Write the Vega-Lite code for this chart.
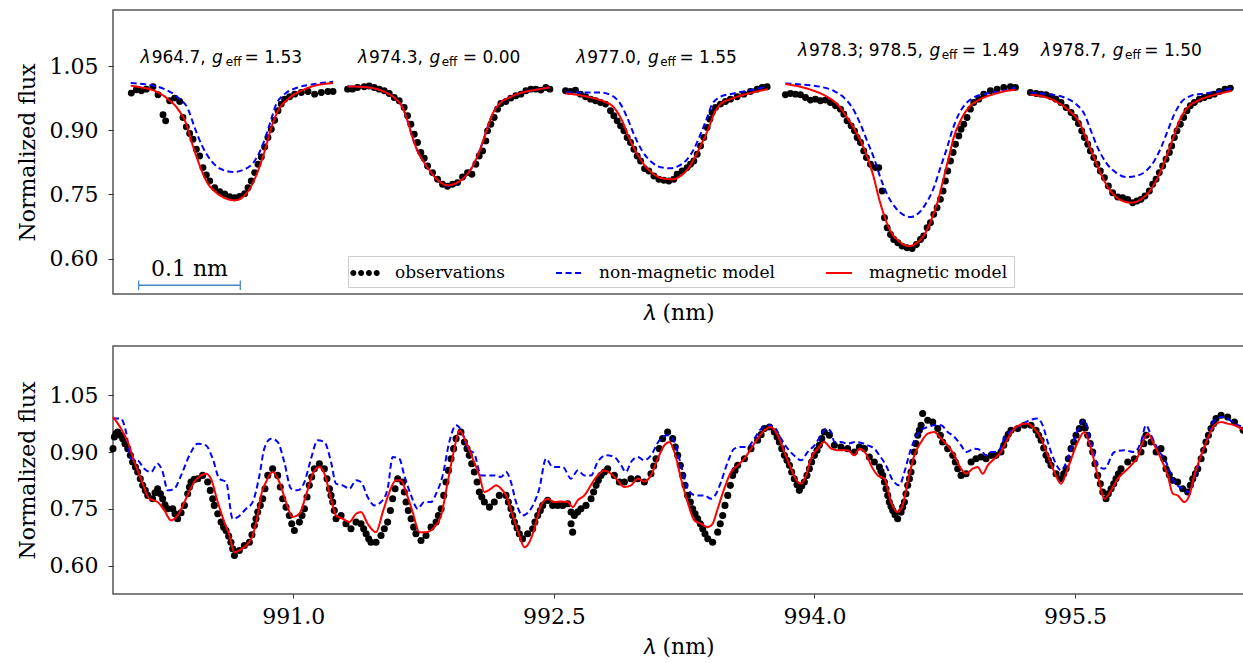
{
"$schema":"https://vega.github.io/schema/vega-lite/v6.json",
"padding":{"left":15,"top":9,"right":0,"bottom":0},
"config":{
 "view":{"stroke":"#555","strokeWidth":1.5},
 "axis":{"labelFont":"DejaVu Serif","labelFontSize":22,"titleFont":"DejaVu Serif","titleFontSize":22,"titleFontWeight":"normal","labelColor":"black","titleColor":"black","tickColor":"#333","grid":false,"domain":false},
 "legend":{"title":null,"orient":"none","legendX":235,"legendY":246,"direction":"horizontal","labelFont":"DejaVu Serif","labelFontSize":17,"labelColor":"black","labelLimit":400,"symbolSize":400,"symbolStrokeWidth":2,"symbolOpacity":1,"labelOffset":19,"columnPadding":47,"padding":6,"strokeColor":"#cccccc","fillColor":"white","cornerRadius":0}
},
"spacing":21,
"resolve":{"scale":{"x":"independent","y":"independent","color":"independent","shape":"independent","strokeDash":"independent"}},
"datasets":{
"top_obs":[
{"x":0.0180,"flux":0.9867},{"x":0.0230,"flux":0.9945},{"x":0.0279,"flux":0.9921},{"x":0.0328,"flux":0.996},{"x":0.0393,"flux":1.0015},{"x":0.0443,"flux":0.9828},{"x":0.0492,"flux":0.9359},{"x":0.0518,"flux":0.9218},{"x":0.0557,"flux":0.9687},{"x":0.0606,"flux":0.975},{"x":0.0656,"flux":0.9671},{"x":0.0688,"flux":0.9297},{"x":0.0721,"flux":0.9078},{"x":0.0754,"flux":0.8922},{"x":0.0787,"flux":0.8789},{"x":0.0820,"flux":0.8555},{"x":0.0852,"flux":0.8398},{"x":0.0885,"flux":0.8125},{"x":0.0918,"flux":0.7953},{"x":0.0951,"flux":0.7813},{"x":0.1000,"flux":0.7657},{"x":0.1049,"flux":0.7563},{"x":0.1098,"flux":0.751},{"x":0.1147,"flux":0.7446},{"x":0.1197,"flux":0.7422},{"x":0.1246,"flux":0.7453},{"x":0.1295,"flux":0.7516},{"x":0.1328,"flux":0.7657},{"x":0.1360,"flux":0.7813},{"x":0.1393,"flux":0.8008},{"x":0.1426,"flux":0.8203},{"x":0.1459,"flux":0.8375},{"x":0.1492,"flux":0.8609},{"x":0.1524,"flux":0.8828},{"x":0.1557,"flux":0.9023},{"x":0.1590,"flux":0.9234},{"x":0.1623,"flux":0.9453},{"x":0.1655,"flux":0.961},{"x":0.1688,"flux":0.9726},{"x":0.1737,"flux":0.9781},{"x":0.1787,"flux":0.9843},{"x":0.1852,"flux":0.9882},{"x":0.1918,"flux":0.9906},{"x":0.1983,"flux":0.9843},{"x":0.2049,"flux":0.9882},{"x":0.2114,"flux":0.9906},{"x":0.2164,"flux":0.9906},
{"x":0.2307,"flux":0.996},{"x":0.2356,"flux":0.996},{"x":0.2405,"flux":1.0},{"x":0.2471,"flux":1.0015},{"x":0.2520,"flux":1.0031},{"x":0.2569,"flux":1.0},{"x":0.2618,"flux":0.996},{"x":0.2668,"flux":0.9921},{"x":0.2717,"flux":0.9859},{"x":0.2766,"flux":0.9765},{"x":0.2815,"flux":0.9687},{"x":0.2864,"flux":0.9531},{"x":0.2897,"flux":0.9336},{"x":0.2930,"flux":0.914},{"x":0.2963,"flux":0.8906},{"x":0.2995,"flux":0.8711},{"x":0.3028,"flux":0.8477},{"x":0.3061,"flux":0.8344},{"x":0.3094,"flux":0.8164},{"x":0.3143,"flux":0.8008},{"x":0.3192,"flux":0.7852},{"x":0.3241,"flux":0.7735},{"x":0.3290,"flux":0.769},{"x":0.3340,"flux":0.7735},{"x":0.3389,"flux":0.7774},{"x":0.3438,"flux":0.7906},{"x":0.3487,"flux":0.8008},{"x":0.3530,"flux":0.7969},{"x":0.3569,"flux":0.8203},{"x":0.3602,"flux":0.8398},{"x":0.3635,"flux":0.8516},{"x":0.3667,"flux":0.875},{"x":0.3684,"flux":0.8984},{"x":0.3717,"flux":0.914},{"x":0.3749,"flux":0.9297},{"x":0.3782,"flux":0.9492},{"x":0.3815,"flux":0.9625},{"x":0.3864,"flux":0.9671},{"x":0.3913,"flux":0.975},{"x":0.3962,"flux":0.9804},{"x":0.4012,"flux":0.9843},{"x":0.4061,"flux":0.9921},{"x":0.4110,"flux":0.996},{"x":0.4159,"flux":0.996},{"x":0.4208,"flux":0.9937},{"x":0.4257,"flux":1.0},{"x":0.4297,"flux":0.996},
{"x":0.4451,"flux":0.9921},{"x":0.4500,"flux":0.9906},{"x":0.4549,"flux":0.9937},{"x":0.4598,"flux":0.9843},{"x":0.4648,"flux":0.9781},{"x":0.4697,"flux":0.9726},{"x":0.4746,"flux":0.9687},{"x":0.4795,"flux":0.9648},{"x":0.4844,"flux":0.961},{"x":0.4893,"flux":0.9453},{"x":0.4926,"flux":0.9336},{"x":0.4959,"flux":0.9218},{"x":0.4992,"flux":0.9101},{"x":0.5025,"flux":0.8984},{"x":0.5057,"flux":0.8828},{"x":0.5090,"flux":0.8711},{"x":0.5123,"flux":0.8555},{"x":0.5156,"flux":0.8398},{"x":0.5189,"flux":0.8281},{"x":0.5228,"flux":0.8102},{"x":0.5270,"flux":0.8047},{"x":0.5320,"flux":0.793},{"x":0.5369,"flux":0.7852},{"x":0.5418,"flux":0.7828},{"x":0.5467,"flux":0.7813},{"x":0.5516,"flux":0.7852},{"x":0.5549,"flux":0.7969},{"x":0.5598,"flux":0.8047},{"x":0.5647,"flux":0.8125},{"x":0.5680,"flux":0.8203},{"x":0.5713,"flux":0.8281},{"x":0.5746,"flux":0.8438},{"x":0.5779,"flux":0.8633},{"x":0.5811,"flux":0.8828},{"x":0.5844,"flux":0.9062},{"x":0.5870,"flux":0.9258},{"x":0.5893,"flux":0.9414},{"x":0.5926,"flux":0.9531},{"x":0.5975,"flux":0.961},{"x":0.6024,"flux":0.9671},{"x":0.6073,"flux":0.9726},{"x":0.6139,"flux":0.9781},{"x":0.6205,"flux":0.9843},{"x":0.6270,"flux":0.9906},{"x":0.6336,"flux":0.996},{"x":0.6385,"flux":1.0},{"x":0.6434,"flux":1.0015},
{"x":0.6614,"flux":0.9828},{"x":0.6663,"flux":0.9859},{"x":0.6712,"flux":0.9843},{"x":0.6761,"flux":0.9828},{"x":0.6811,"flux":0.9765},{"x":0.6860,"flux":0.9703},{"x":0.6909,"flux":0.9726},{"x":0.6958,"flux":0.9687},{"x":0.7007,"flux":0.9703},{"x":0.7056,"flux":0.9648},{"x":0.7106,"flux":0.957},{"x":0.7155,"flux":0.9492},{"x":0.7188,"flux":0.9375},{"x":0.7220,"flux":0.9218},{"x":0.7260,"flux":0.9101},{"x":0.7293,"flux":0.8984},{"x":0.7319,"flux":0.8828},{"x":0.7352,"flux":0.8711},{"x":0.7384,"flux":0.8516},{"x":0.7410,"flux":0.8359},{"x":0.7450,"flux":0.8203},{"x":0.7499,"flux":0.8125},{"x":0.7532,"flux":0.8125},{"x":0.7565,"flux":0.7578},{"x":0.7588,"flux":0.6954},{"x":0.7614,"flux":0.6719},{"x":0.7647,"flux":0.6563},{"x":0.7679,"flux":0.6446},{"x":0.7719,"flux":0.6368},{"x":0.7761,"flux":0.629},{"x":0.7810,"flux":0.6251},{"x":0.7860,"flux":0.6235},{"x":0.7902,"flux":0.6329},{"x":0.7942,"flux":0.6446},{"x":0.7974,"flux":0.6524},{"x":0.8007,"flux":0.6719},{"x":0.8040,"flux":0.6836},{"x":0.8073,"flux":0.7032},{"x":0.8105,"flux":0.7188},{"x":0.8138,"flux":0.7383},{"x":0.8164,"flux":0.7578},{"x":0.8187,"flux":0.7813},{"x":0.8210,"flux":0.8047},{"x":0.8237,"flux":0.8281},{"x":0.8263,"flux":0.8477},{"x":0.8286,"flux":0.8672},{"x":0.8319,"flux":0.8867},{"x":0.8341,"flux":0.9023},{"x":0.8368,"flux":0.914},{"x":0.8400,"flux":0.9297},{"x":0.8433,"flux":0.9492},{"x":0.8466,"flux":0.9648},{"x":0.8515,"flux":0.9726},{"x":0.8564,"flux":0.9843},{"x":0.8630,"flux":0.9921},{"x":0.8696,"flux":0.996},{"x":0.8761,"flux":1.0},{"x":0.8827,"flux":1.0015},{"x":0.8876,"flux":1.0},
{"x":0.9023,"flux":0.9882},{"x":0.9079,"flux":0.9859},{"x":0.9128,"flux":0.9843},{"x":0.9177,"flux":0.9828},{"x":0.9226,"flux":0.9781},{"x":0.9275,"flux":0.9726},{"x":0.9324,"flux":0.9648},{"x":0.9374,"flux":0.9531},{"x":0.9423,"flux":0.9414},{"x":0.9462,"flux":0.9297},{"x":0.9495,"flux":0.9156},{"x":0.9528,"flux":0.8984},{"x":0.9554,"flux":0.8828},{"x":0.9587,"flux":0.8672},{"x":0.9613,"flux":0.8516},{"x":0.9646,"flux":0.8359},{"x":0.9678,"flux":0.8203},{"x":0.9711,"flux":0.8047},{"x":0.9751,"flux":0.789},{"x":0.9790,"flux":0.7696},{"x":0.9832,"flux":0.7539},{"x":0.9882,"flux":0.7438},{"x":0.9931,"flux":0.7422},{"x":0.9980,"flux":0.7383},{"x":1.0029,"flux":0.7305},{"x":1.0072,"flux":0.7344},{"x":1.0111,"flux":0.7383},{"x":1.0150,"flux":0.7461},{"x":1.0193,"flux":0.7578},{"x":1.0226,"flux":0.7735},{"x":1.0259,"flux":0.7852},{"x":1.0291,"flux":0.8008},{"x":1.0324,"flux":0.8164},{"x":1.0357,"flux":0.832},{"x":1.0390,"flux":0.8477},{"x":1.0413,"flux":0.8633},{"x":1.0439,"flux":0.8828},{"x":1.0465,"flux":0.8984},{"x":1.0498,"flux":0.914},{"x":1.0531,"flux":0.9297},{"x":1.0563,"flux":0.9453},{"x":1.0596,"flux":0.957},{"x":1.0636,"flux":0.9648},{"x":1.0685,"flux":0.9726},{"x":1.0734,"flux":0.9765},{"x":1.0783,"flux":0.9804},{"x":1.0832,"flux":0.9843},{"x":1.0881,"flux":0.9906},{"x":1.0937,"flux":0.996},{"x":1.0990,"flux":0.9984}
],
"top_nonmag":[
{"seg":1,"x":0.0174,"flux":1.0101},{"seg":1,"x":0.0344,"flux":1.0062},{"seg":1,"x":0.0508,"flux":0.996},{"seg":1,"x":0.0639,"flux":0.9765},{"seg":1,"x":0.0738,"flux":0.9492},{"seg":1,"x":0.0803,"flux":0.9062},{"seg":1,"x":0.0869,"flux":0.8672},{"seg":1,"x":0.0967,"flux":0.8281},{"seg":1,"x":0.1065,"flux":0.8086},{"seg":1,"x":0.118,"flux":0.8024},{"seg":1,"x":0.1295,"flux":0.8086},{"seg":1,"x":0.1393,"flux":0.8281},{"seg":1,"x":0.1475,"flux":0.8672},{"seg":1,"x":0.1541,"flux":0.914},{"seg":1,"x":0.1606,"flux":0.961},{"seg":1,"x":0.1688,"flux":0.9843},{"seg":1,"x":0.1819,"flux":1.0},{"seg":1,"x":0.1983,"flux":1.0078},{"seg":1,"x":0.2164,"flux":1.0132},
{"seg":2,"x":0.2307,"flux":1.0023},{"seg":2,"x":0.2422,"flux":1.0015},{"seg":2,"x":0.2553,"flux":0.9984},{"seg":2,"x":0.2684,"flux":0.9882},{"seg":2,"x":0.2782,"flux":0.9726},{"seg":2,"x":0.2848,"flux":0.9531},{"seg":2,"x":0.2897,"flux":0.9218},{"seg":2,"x":0.2946,"flux":0.8828},{"seg":2,"x":0.2995,"flux":0.8516},{"seg":2,"x":0.3061,"flux":0.8242},{"seg":2,"x":0.3143,"flux":0.7969},{"seg":2,"x":0.3225,"flux":0.7774},{"seg":2,"x":0.3290,"flux":0.7701},{"seg":2,"x":0.3372,"flux":0.7748},{"seg":2,"x":0.3454,"flux":0.7891},{"seg":2,"x":0.3520,"flux":0.8086},{"seg":2,"x":0.3585,"flux":0.8398},{"seg":2,"x":0.3635,"flux":0.8711},{"seg":2,"x":0.3684,"flux":0.9062},{"seg":2,"x":0.3733,"flux":0.9375},{"seg":2,"x":0.3798,"flux":0.961},{"seg":2,"x":0.3897,"flux":0.9765},{"seg":2,"x":0.4028,"flux":0.9882},{"seg":2,"x":0.4159,"flux":0.9945},{"seg":2,"x":0.4297,"flux":1.0},
{"seg":3,"x":0.4451,"flux":0.9882},{"seg":3,"x":0.4631,"flux":0.9882},{"seg":3,"x":0.4795,"flux":0.9882},{"seg":3,"x":0.4910,"flux":0.9804},{"seg":3,"x":0.4992,"flux":0.961},{"seg":3,"x":0.5057,"flux":0.9297},{"seg":3,"x":0.5123,"flux":0.8906},{"seg":3,"x":0.5205,"flux":0.8516},{"seg":3,"x":0.5303,"flux":0.8242},{"seg":3,"x":0.5402,"flux":0.8125},{"seg":3,"x":0.5484,"flux":0.8109},{"seg":3,"x":0.5565,"flux":0.8164},{"seg":3,"x":0.5647,"flux":0.832},{"seg":3,"x":0.5713,"flux":0.8555},{"seg":3,"x":0.5779,"flux":0.8906},{"seg":3,"x":0.5844,"flux":0.9297},{"seg":3,"x":0.5893,"flux":0.961},{"seg":3,"x":0.5975,"flux":0.9781},{"seg":3,"x":0.6106,"flux":0.9859},{"seg":3,"x":0.6270,"flux":0.9937},{"seg":3,"x":0.6441,"flux":1.0023},
{"seg":4,"x":0.6614,"flux":1.0093},{"seg":4,"x":0.6794,"flux":1.0062},{"seg":4,"x":0.6958,"flux":1.0015},{"seg":4,"x":0.7089,"flux":0.9921},{"seg":4,"x":0.7188,"flux":0.9765},{"seg":4,"x":0.7270,"flux":0.9531},{"seg":4,"x":0.7352,"flux":0.914},{"seg":4,"x":0.7417,"flux":0.875},{"seg":4,"x":0.7483,"flux":0.8359},{"seg":4,"x":0.7548,"flux":0.789},{"seg":4,"x":0.7614,"flux":0.75},{"seg":4,"x":0.7696,"flux":0.7188},{"seg":4,"x":0.7778,"flux":0.7016},{"seg":4,"x":0.7843,"flux":0.6969},{"seg":4,"x":0.7909,"flux":0.7032},{"seg":4,"x":0.7991,"flux":0.7266},{"seg":4,"x":0.8073,"flux":0.7656},{"seg":4,"x":0.8138,"flux":0.8125},{"seg":4,"x":0.8204,"flux":0.8594},{"seg":4,"x":0.8253,"flux":0.8984},{"seg":4,"x":0.8319,"flux":0.9375},{"seg":4,"x":0.8384,"flux":0.961},{"seg":4,"x":0.8466,"flux":0.9765},{"seg":4,"x":0.8597,"flux":0.9859},{"seg":4,"x":0.8728,"flux":0.9906},{"seg":4,"x":0.8876,"flux":1.0},
{"seg":5,"x":0.9023,"flux":0.9882},{"seg":5,"x":0.9193,"flux":0.9843},{"seg":5,"x":0.9357,"flux":0.9765},{"seg":5,"x":0.9472,"flux":0.961},{"seg":5,"x":0.9554,"flux":0.9375},{"seg":5,"x":0.9619,"flux":0.8984},{"seg":5,"x":0.9685,"flux":0.8594},{"seg":5,"x":0.9767,"flux":0.8242},{"seg":5,"x":0.9865,"flux":0.8008},{"seg":5,"x":0.9964,"flux":0.7906},{"seg":5,"x":1.0062,"flux":0.793},{"seg":5,"x":1.0160,"flux":0.8047},{"seg":5,"x":1.0242,"flux":0.8281},{"seg":5,"x":1.0308,"flux":0.8594},{"seg":5,"x":1.0373,"flux":0.8984},{"seg":5,"x":1.0439,"flux":0.9375},{"seg":5,"x":1.0505,"flux":0.9648},{"seg":5,"x":1.0603,"flux":0.9804},{"seg":5,"x":1.0734,"flux":0.9859},{"seg":5,"x":1.0865,"flux":0.9906},{"seg":5,"x":1.1003,"flux":0.9984}
],
"top_mag":[
{"seg":1,"x":0.0174,"flux":1.0039},{"seg":1,"x":0.0279,"flux":1.0},{"seg":1,"x":0.0410,"flux":0.9921},{"seg":1,"x":0.0541,"flux":0.9726},{"seg":1,"x":0.0639,"flux":0.9492},{"seg":1,"x":0.0721,"flux":0.914},{"seg":1,"x":0.0770,"flux":0.875},{"seg":1,"x":0.0836,"flux":0.8281},{"seg":1,"x":0.0918,"flux":0.7813},{"seg":1,"x":0.1016,"flux":0.7539},{"seg":1,"x":0.1115,"flux":0.7399},{"seg":1,"x":0.1197,"flux":0.736},{"seg":1,"x":0.1278,"flux":0.7438},{"seg":1,"x":0.1360,"flux":0.7696},{"seg":1,"x":0.1426,"flux":0.8047},{"seg":1,"x":0.1492,"flux":0.8516},{"seg":1,"x":0.1557,"flux":0.9062},{"seg":1,"x":0.1623,"flux":0.9453},{"seg":1,"x":0.1721,"flux":0.9726},{"seg":1,"x":0.1852,"flux":0.9921},{"seg":1,"x":0.1983,"flux":1.0039},{"seg":1,"x":0.2164,"flux":1.0101},
{"seg":2,"x":0.2307,"flux":1.0023},{"seg":2,"x":0.2422,"flux":1.0015},{"seg":2,"x":0.2553,"flux":0.9984},{"seg":2,"x":0.2684,"flux":0.9882},{"seg":2,"x":0.2782,"flux":0.9726},{"seg":2,"x":0.2848,"flux":0.9531},{"seg":2,"x":0.2897,"flux":0.9218},{"seg":2,"x":0.2946,"flux":0.8828},{"seg":2,"x":0.2995,"flux":0.8516},{"seg":2,"x":0.3061,"flux":0.8242},{"seg":2,"x":0.3143,"flux":0.7969},{"seg":2,"x":0.3225,"flux":0.7774},{"seg":2,"x":0.3290,"flux":0.7711},{"seg":2,"x":0.3372,"flux":0.7758},{"seg":2,"x":0.3454,"flux":0.7891},{"seg":2,"x":0.3520,"flux":0.8086},{"seg":2,"x":0.3585,"flux":0.8398},{"seg":2,"x":0.3635,"flux":0.8711},{"seg":2,"x":0.3684,"flux":0.9062},{"seg":2,"x":0.3733,"flux":0.9375},{"seg":2,"x":0.3798,"flux":0.961},{"seg":2,"x":0.3897,"flux":0.9765},{"seg":2,"x":0.4028,"flux":0.9882},{"seg":2,"x":0.4159,"flux":0.9945},{"seg":2,"x":0.4297,"flux":1.0},
{"seg":3,"x":0.4451,"flux":0.9859},{"seg":3,"x":0.4566,"flux":0.9828},{"seg":3,"x":0.4697,"flux":0.9765},{"seg":3,"x":0.4828,"flux":0.9671},{"seg":3,"x":0.4926,"flux":0.9531},{"seg":3,"x":0.5008,"flux":0.9218},{"seg":3,"x":0.5074,"flux":0.8828},{"seg":3,"x":0.5139,"flux":0.8516},{"seg":3,"x":0.5221,"flux":0.8203},{"seg":3,"x":0.5320,"flux":0.7969},{"seg":3,"x":0.5418,"flux":0.7867},{"seg":3,"x":0.5500,"flux":0.7852},{"seg":3,"x":0.5582,"flux":0.793},{"seg":3,"x":0.5664,"flux":0.8125},{"seg":3,"x":0.5729,"flux":0.8398},{"seg":3,"x":0.5795,"flux":0.8711},{"seg":3,"x":0.5861,"flux":0.9062},{"seg":3,"x":0.5910,"flux":0.9375},{"seg":3,"x":0.5975,"flux":0.961},{"seg":3,"x":0.6073,"flux":0.9726},{"seg":3,"x":0.6205,"flux":0.9828},{"seg":3,"x":0.6336,"flux":0.9906},{"seg":3,"x":0.6441,"flux":0.996},
{"seg":4,"x":0.6614,"flux":1.0078},{"seg":4,"x":0.6761,"flux":1.0015},{"seg":4,"x":0.6893,"flux":0.9921},{"seg":4,"x":0.7024,"flux":0.9781},{"seg":4,"x":0.7122,"flux":0.961},{"seg":4,"x":0.7220,"flux":0.9297},{"seg":4,"x":0.7302,"flux":0.8984},{"seg":4,"x":0.7368,"flux":0.8672},{"seg":4,"x":0.7433,"flux":0.8281},{"seg":4,"x":0.7483,"flux":0.789},{"seg":4,"x":0.7532,"flux":0.7422},{"seg":4,"x":0.7581,"flux":0.7032},{"seg":4,"x":0.7647,"flux":0.6641},{"seg":4,"x":0.7729,"flux":0.6407},{"seg":4,"x":0.7827,"flux":0.629},{"seg":4,"x":0.7909,"flux":0.6368},{"seg":4,"x":0.7991,"flux":0.6602},{"seg":4,"x":0.8056,"flux":0.6954},{"seg":4,"x":0.8122,"flux":0.7422},{"seg":4,"x":0.8171,"flux":0.789},{"seg":4,"x":0.8220,"flux":0.8359},{"seg":4,"x":0.8269,"flux":0.8828},{"seg":4,"x":0.8335,"flux":0.9218},{"seg":4,"x":0.8417,"flux":0.9531},{"seg":4,"x":0.8532,"flux":0.9726},{"seg":4,"x":0.8663,"flux":0.9843},{"seg":4,"x":0.8794,"flux":0.9921},{"seg":4,"x":0.8876,"flux":0.9945},
{"seg":5,"x":0.9023,"flux":0.9828},{"seg":5,"x":0.9160,"flux":0.9781},{"seg":5,"x":0.9292,"flux":0.9648},{"seg":5,"x":0.9406,"flux":0.9453},{"seg":5,"x":0.9505,"flux":0.918},{"seg":5,"x":0.9570,"flux":0.8828},{"seg":5,"x":0.9636,"flux":0.8438},{"seg":5,"x":0.9718,"flux":0.7969},{"seg":5,"x":0.9800,"flux":0.7617},{"seg":5,"x":0.9898,"flux":0.7383},{"seg":5,"x":1.0013,"flux":0.7305},{"seg":5,"x":1.0111,"flux":0.7383},{"seg":5,"x":1.0209,"flux":0.7617},{"seg":5,"x":1.0291,"flux":0.7969},{"seg":5,"x":1.0357,"flux":0.8359},{"seg":5,"x":1.0423,"flux":0.879},{"seg":5,"x":1.0488,"flux":0.9218},{"seg":5,"x":1.0570,"flux":0.9531},{"seg":5,"x":1.0668,"flux":0.9687},{"seg":5,"x":1.0799,"flux":0.9804},{"seg":5,"x":1.0931,"flux":0.9882},{"seg":5,"x":1.1003,"flux":0.9921}
],
"labels":[
{"x":0.0271,"flux":1.0561,"text":"λ","style":"italic"},{"x":0.0380,"flux":1.0561,"text":"964.7,","style":"upright"},{"x":0.0973,"flux":1.0561,"text":"g","style":"italic"},{"x":0.1109,"flux":1.049,"text":"eff","style":"sub"},{"x":0.1294,"flux":1.0561,"text":"= 1.53","style":"upright"},
{"x":0.2409,"flux":1.0561,"text":"λ","style":"italic"},{"x":0.2517,"flux":1.0561,"text":"974.3,","style":"upright"},{"x":0.3113,"flux":1.0561,"text":"g","style":"italic"},{"x":0.3233,"flux":1.049,"text":"eff","style":"sub"},{"x":0.3441,"flux":1.0561,"text":"= 0.00","style":"upright"},
{"x":0.4556,"flux":1.0561,"text":"λ","style":"italic"},{"x":0.4664,"flux":1.0561,"text":"977.0,","style":"upright"},{"x":0.5261,"flux":1.0561,"text":"g","style":"italic"},{"x":0.5382,"flux":1.049,"text":"eff","style":"sub"},{"x":0.5571,"flux":1.0561,"text":"= 1.55","style":"upright"},
{"x":0.6738,"flux":1.0741,"text":"λ","style":"italic"},{"x":0.6846,"flux":1.0741,"text":"978.3; 978.5,","style":"upright"},{"x":0.8030,"flux":1.0741,"text":"g","style":"italic"},{"x":0.8150,"flux":1.0671,"text":"eff","style":"sub"},{"x":0.8348,"flux":1.0741,"text":"= 1.49","style":"upright"},
{"x":0.9128,"flux":1.0741,"text":"λ","style":"italic"},{"x":0.9236,"flux":1.0741,"text":"978.7,","style":"upright"},{"x":0.9833,"flux":1.0741,"text":"g","style":"italic"},{"x":0.9954,"flux":1.0671,"text":"eff","style":"sub"},{"x":1.0144,"flux":1.0741,"text":"= 1.50","style":"upright"}
],
"scalebar":[{"x":0.0252,"x2":0.1252,"flux":0.5374}],
"scalecaps":[{"x":0.0252,"flux":0.5484,"flux2":0.5264},{"x":0.1252,"flux":0.5484,"flux2":0.5264}],
"scaletext":[{"x":0.0752,"flux":0.5585,"text":"0.1 nm"}],
"bottom_obs":[
{"lambda":989.962,"flux":0.9089},{"lambda":989.970,"flux":0.9397},{"lambda":989.989,"flux":0.953},{"lambda":990.018,"flux":0.9353},{"lambda":990.047,"flux":0.9089},{"lambda":990.075,"flux":0.8736},{"lambda":990.104,"flux":0.8471},{"lambda":990.133,"flux":0.8119},{"lambda":990.162,"flux":0.7854},{"lambda":990.190,"flux":0.7766},{"lambda":990.219,"flux":0.8031},{"lambda":990.248,"flux":0.7766},{"lambda":990.277,"flux":0.7501},{"lambda":990.306,"flux":0.7501},{"lambda":990.334,"flux":0.7237},{"lambda":990.373,"flux":0.759},{"lambda":990.411,"flux":0.8207},{"lambda":990.450,"flux":0.8295},{"lambda":990.478,"flux":0.8383},{"lambda":990.507,"flux":0.8207},{"lambda":990.545,"flux":0.759},{"lambda":990.584,"flux":0.7149},{"lambda":990.613,"flux":0.6928},{"lambda":990.641,"flux":0.6619},{"lambda":990.661,"flux":0.6266},{"lambda":990.689,"flux":0.6399},{"lambda":990.718,"flux":0.6531},{"lambda":990.747,"flux":0.6619},{"lambda":990.776,"flux":0.7061},{"lambda":990.795,"flux":0.7413},{"lambda":990.824,"flux":0.7766},{"lambda":990.853,"flux":0.8383},{"lambda":990.881,"flux":0.856},{"lambda":990.910,"flux":0.8383},{"lambda":990.939,"flux":0.7766},{"lambda":990.977,"flux":0.7325},{"lambda":991.006,"flux":0.6928},{"lambda":991.035,"flux":0.7149},{"lambda":991.064,"flux":0.7501},{"lambda":991.092,"flux":0.8119},{"lambda":991.121,"flux":0.856},{"lambda":991.150,"flux":0.8692},{"lambda":991.179,"flux":0.856},{"lambda":991.208,"flux":0.8031},{"lambda":991.227,"flux":0.7678},{"lambda":991.246,"flux":0.7237},{"lambda":991.275,"flux":0.7325},{"lambda":991.303,"flux":0.7105},{"lambda":991.332,"flux":0.6972},{"lambda":991.361,"flux":0.7149},{"lambda":991.390,"flux":0.7105},{"lambda":991.419,"flux":0.684},{"lambda":991.447,"flux":0.6619},{"lambda":991.476,"flux":0.6619},{"lambda":991.505,"flux":0.6796},{"lambda":991.524,"flux":0.6972},{"lambda":991.543,"flux":0.7149},{"lambda":991.572,"flux":0.7766},{"lambda":991.601,"flux":0.8295},{"lambda":991.630,"flux":0.8207},{"lambda":991.649,"flux":0.7678},{"lambda":991.678,"flux":0.7237},{"lambda":991.706,"flux":0.684},{"lambda":991.735,"flux":0.6663},{"lambda":991.764,"flux":0.6796},{"lambda":991.793,"flux":0.7016},{"lambda":991.822,"flux":0.7149},{"lambda":991.851,"flux":0.7501},{"lambda":991.879,"flux":0.8207},{"lambda":991.908,"flux":0.8824},{"lambda":991.937,"flux":0.9353},{"lambda":991.965,"flux":0.953},{"lambda":991.985,"flux":0.9265},{"lambda":992.013,"flux":0.8912},{"lambda":992.042,"flux":0.8471},{"lambda":992.071,"flux":0.7942},{"lambda":992.100,"flux":0.7678},{"lambda":992.129,"flux":0.7545},{"lambda":992.157,"flux":0.7678},{"lambda":992.186,"flux":0.7854},
{"lambda":992.225,"flux":0.7854},{"lambda":992.253,"flux":0.7501},{"lambda":992.273,"flux":0.7149},{"lambda":992.301,"flux":0.684},{"lambda":992.320,"flux":0.6707},{"lambda":992.349,"flux":0.684},{"lambda":992.378,"flux":0.6972},{"lambda":992.407,"flux":0.7325},{"lambda":992.436,"flux":0.759},{"lambda":992.464,"flux":0.7722},{"lambda":992.493,"flux":0.759},{"lambda":992.522,"flux":0.759},{"lambda":992.551,"flux":0.759},{"lambda":992.580,"flux":0.7634},{"lambda":992.599,"flux":0.7413},{"lambda":992.599,"flux":0.7105},{"lambda":992.608,"flux":0.6884},{"lambda":992.618,"flux":0.7325},{"lambda":992.637,"flux":0.7413},{"lambda":992.656,"flux":0.7501},{"lambda":992.685,"flux":0.759},{"lambda":992.714,"flux":0.7766},{"lambda":992.743,"flux":0.8119},{"lambda":992.771,"flux":0.8383},{"lambda":992.810,"flux":0.856},{"lambda":992.848,"flux":0.8383},{"lambda":992.877,"flux":0.8207},{"lambda":992.906,"flux":0.8207},{"lambda":992.944,"flux":0.8295},{"lambda":992.983,"flux":0.8295},{"lambda":993.021,"flux":0.8207},{"lambda":993.059,"flux":0.8427},{"lambda":993.088,"flux":0.8824},{"lambda":993.126,"flux":0.9353},{"lambda":993.155,"flux":0.953},{"lambda":993.184,"flux":0.9353},{"lambda":993.213,"flux":0.8912},{"lambda":993.242,"flux":0.8383},{"lambda":993.270,"flux":0.7854},{"lambda":993.299,"flux":0.7501},{"lambda":993.328,"flux":0.7237},{"lambda":993.357,"flux":0.6972},{"lambda":993.386,"flux":0.6707},{"lambda":993.414,"flux":0.6619},{"lambda":993.443,"flux":0.6884},{"lambda":993.472,"flux":0.7325},{"lambda":993.501,"flux":0.7854},{"lambda":993.529,"flux":0.8383},{"lambda":993.558,"flux":0.8648},{"lambda":993.597,"flux":0.8824},{"lambda":993.635,"flux":0.9089},{"lambda":993.673,"flux":0.9309},{"lambda":993.712,"flux":0.9618},{"lambda":993.741,"flux":0.9662},{"lambda":993.769,"flux":0.953},{"lambda":993.798,"flux":0.9265},{"lambda":993.827,"flux":0.8912},{"lambda":993.856,"flux":0.8648},{"lambda":993.884,"flux":0.8295},{"lambda":993.913,"flux":0.7987},{"lambda":993.942,"flux":0.8207},{"lambda":993.971,"flux":0.856},{"lambda":994.000,"flux":0.8912},{"lambda":994.028,"flux":0.9177},{"lambda":994.057,"flux":0.953},{"lambda":994.086,"flux":0.9441},{"lambda":994.115,"flux":0.9177},{"lambda":994.153,"flux":0.9133},{"lambda":994.191,"flux":0.9089},{"lambda":994.230,"flux":0.9},{"lambda":994.259,"flux":0.9133},
{"lambda":994.288,"flux":0.9089},{"lambda":994.316,"flux":0.8868},{"lambda":994.345,"flux":0.8736},{"lambda":994.374,"flux":0.8604},{"lambda":994.393,"flux":0.8383},{"lambda":994.412,"flux":0.8031},{"lambda":994.431,"flux":0.7678},{"lambda":994.451,"flux":0.7457},{"lambda":994.479,"flux":0.7237},{"lambda":994.499,"flux":0.7413},{"lambda":994.518,"flux":0.7678},{"lambda":994.537,"flux":0.8119},{"lambda":994.556,"flux":0.8471},{"lambda":994.575,"flux":0.9},{"lambda":994.595,"flux":0.9441},{"lambda":994.614,"flux":0.9706},{"lambda":994.623,"flux":1.0015},{"lambda":994.652,"flux":0.9838},{"lambda":994.681,"flux":0.9794},{"lambda":994.710,"flux":0.9618},{"lambda":994.738,"flux":0.9265},{"lambda":994.767,"flux":0.9089},{"lambda":994.796,"flux":0.8912},{"lambda":994.825,"flux":0.856},{"lambda":994.844,"flux":0.8383},{"lambda":994.873,"flux":0.8427},{"lambda":994.902,"flux":0.8736},{"lambda":994.930,"flux":0.8824},{"lambda":994.959,"flux":0.8868},{"lambda":994.988,"flux":0.8824},{"lambda":995.017,"flux":0.8912},{"lambda":995.045,"flux":0.8912},{"lambda":995.074,"flux":0.9},{"lambda":995.103,"flux":0.9353},{"lambda":995.132,"flux":0.9574},{"lambda":995.170,"flux":0.9618},{"lambda":995.209,"flux":0.9706},{"lambda":995.247,"flux":0.9706},{"lambda":995.276,"flux":0.9574},{"lambda":995.305,"flux":0.9309},{"lambda":995.333,"flux":0.8912},{"lambda":995.362,"flux":0.8648},{"lambda":995.391,"flux":0.8427},{"lambda":995.420,"flux":0.8295},{"lambda":995.449,"flux":0.856},{"lambda":995.477,"flux":0.9089},{"lambda":995.506,"flux":0.9441},{"lambda":995.544,"flux":0.9794},{"lambda":995.573,"flux":0.9441},{"lambda":995.602,"flux":0.9},{"lambda":995.631,"flux":0.8383},{"lambda":995.660,"flux":0.7942},{"lambda":995.679,"flux":0.7766},{"lambda":995.708,"flux":0.8031},{"lambda":995.736,"flux":0.8295},{"lambda":995.765,"flux":0.856},{"lambda":995.804,"flux":0.8736},{"lambda":995.842,"flux":0.8824},{"lambda":995.880,"flux":0.9},{"lambda":995.909,"flux":0.9441},{"lambda":995.938,"flux":0.9265},{"lambda":995.967,"flux":0.9},{"lambda":995.995,"flux":0.9089},{"lambda":996.024,"flux":0.856},{"lambda":996.063,"flux":0.8251},{"lambda":996.091,"flux":0.8207},{"lambda":996.120,"flux":0.8031},{"lambda":996.149,"flux":0.7942},{"lambda":996.178,"flux":0.8295},{"lambda":996.207,"flux":0.856},{"lambda":996.226,"flux":0.8824},{"lambda":996.254,"flux":0.9265},{"lambda":996.283,"flux":0.9618},{"lambda":996.312,"flux":0.9882},{"lambda":996.341,"flux":0.9971},{"lambda":996.379,"flux":0.9927},{"lambda":996.418,"flux":0.9794},{"lambda":996.468,"flux":0.9574},
{"lambda":989.979,"flux":0.9485},{"lambda":990.004,"flux":0.9441},{"lambda":990.031,"flux":0.9221},{"lambda":990.062,"flux":0.8912},{"lambda":990.091,"flux":0.8604},{"lambda":990.119,"flux":0.8295},{"lambda":990.148,"flux":0.7986},{"lambda":990.204,"flux":0.7924},{"lambda":990.235,"flux":0.7898},{"lambda":990.261,"flux":0.7607},{"lambda":990.319,"flux":0.7369},{"lambda":990.354,"flux":0.7395},{"lambda":990.392,"flux":0.7898},{"lambda":990.402,"flux":0.8074},{"lambda":990.430,"flux":0.8277},{"lambda":990.522,"flux":0.7986},{"lambda":990.536,"flux":0.7766},{"lambda":990.565,"flux":0.7369},{"lambda":990.599,"flux":0.7016},{"lambda":990.628,"flux":0.6778},{"lambda":990.651,"flux":0.6443},{"lambda":990.762,"flux":0.6813},{"lambda":990.785,"flux":0.7237},{"lambda":990.810,"flux":0.759},{"lambda":990.837,"flux":0.803},{"lambda":990.925,"flux":0.8074},{"lambda":990.958,"flux":0.7545},{"lambda":990.991,"flux":0.7104},{"lambda":991.050,"flux":0.7325},{"lambda":991.079,"flux":0.781},{"lambda":991.106,"flux":0.8339},{"lambda":991.194,"flux":0.8295},{"lambda":991.217,"flux":0.7854},{"lambda":991.236,"flux":0.7457},{"lambda":991.405,"flux":0.6972},{"lambda":991.434,"flux":0.6707},{"lambda":991.559,"flux":0.7457},{"lambda":991.586,"flux":0.803},{"lambda":991.639,"flux":0.7942},{"lambda":991.662,"flux":0.7457},{"lambda":991.693,"flux":0.7016},{"lambda":991.835,"flux":0.7325},{"lambda":991.866,"flux":0.7854},{"lambda":991.893,"flux":0.8515},{"lambda":991.923,"flux":0.9089},{"lambda":992.000,"flux":0.9089},{"lambda":992.027,"flux":0.8692},{"lambda":992.058,"flux":0.8207},{"lambda":992.085,"flux":0.781},
{"lambda":992.238,"flux":0.7677},{"lambda":992.263,"flux":0.7325},{"lambda":992.288,"flux":0.699},{"lambda":992.391,"flux":0.7149},{"lambda":992.422,"flux":0.7457},{"lambda":992.729,"flux":0.7942},{"lambda":992.756,"flux":0.8251},{"lambda":992.791,"flux":0.8471},{"lambda":993.075,"flux":0.863},{"lambda":993.107,"flux":0.9089},{"lambda":993.199,"flux":0.9133},{"lambda":993.228,"flux":0.8648},{"lambda":993.255,"flux":0.8119},{"lambda":993.286,"flux":0.7677},{"lambda":993.313,"flux":0.7369},{"lambda":993.343,"flux":0.7104},{"lambda":993.370,"flux":0.684},{"lambda":993.458,"flux":0.7104},{"lambda":993.485,"flux":0.759},{"lambda":993.516,"flux":0.8119},{"lambda":993.543,"flux":0.8515},{"lambda":993.693,"flux":0.9459},{"lambda":993.785,"flux":0.9397},{"lambda":993.812,"flux":0.9089},{"lambda":993.842,"flux":0.878},{"lambda":993.869,"flux":0.8471},{"lambda":993.900,"flux":0.8136},{"lambda":993.927,"flux":0.8101},{"lambda":993.957,"flux":0.8383},{"lambda":993.984,"flux":0.8736},{"lambda":994.015,"flux":0.9045},{"lambda":994.042,"flux":0.9353},
{"lambda":994.383,"flux":0.8489},{"lambda":994.403,"flux":0.8207},{"lambda":994.422,"flux":0.7854},{"lambda":994.441,"flux":0.7563},{"lambda":994.464,"flux":0.7342},{"lambda":994.508,"flux":0.7545},{"lambda":994.527,"flux":0.7898},{"lambda":994.547,"flux":0.8295},{"lambda":994.566,"flux":0.8736},{"lambda":994.585,"flux":0.9221},{"lambda":994.604,"flux":0.9574},{"lambda":994.725,"flux":0.9441},{"lambda":994.811,"flux":0.8736},{"lambda":995.090,"flux":0.9177},{"lambda":995.116,"flux":0.9468},{"lambda":995.291,"flux":0.9441},{"lambda":995.320,"flux":0.9106},{"lambda":995.347,"flux":0.878},{"lambda":995.435,"flux":0.8427},{"lambda":995.462,"flux":0.8824},{"lambda":995.493,"flux":0.9265},{"lambda":995.525,"flux":0.9618},{"lambda":995.558,"flux":0.9635},{"lambda":995.588,"flux":0.9221},{"lambda":995.615,"flux":0.8692},{"lambda":995.646,"flux":0.8163},{"lambda":995.692,"flux":0.7898},{"lambda":995.723,"flux":0.8163},{"lambda":995.750,"flux":0.8427},{"lambda":995.896,"flux":0.9221},{"lambda":996.011,"flux":0.8824},{"lambda":996.043,"flux":0.8401},{"lambda":996.164,"flux":0.8119},{"lambda":996.193,"flux":0.8427},{"lambda":996.241,"flux":0.9045},{"lambda":996.268,"flux":0.9441},{"lambda":996.299,"flux":0.975}
],
"bottom_nonmag":[
{"lambda":989.962,"flux":0.9882},{"lambda":990.008,"flux":0.9882},{"lambda":990.037,"flux":0.953},{"lambda":990.066,"flux":0.8824},{"lambda":990.104,"flux":0.878},{"lambda":990.142,"flux":0.856},{"lambda":990.181,"flux":0.8471},{"lambda":990.219,"flux":0.8692},{"lambda":990.248,"flux":0.8471},{"lambda":990.277,"flux":0.7987},{"lambda":990.315,"flux":0.8031},{"lambda":990.354,"flux":0.8383},{"lambda":990.402,"flux":0.8912},{"lambda":990.450,"flux":0.9221},{"lambda":990.497,"flux":0.9177},{"lambda":990.536,"flux":0.8824},{"lambda":990.574,"flux":0.8295},{"lambda":990.613,"flux":0.8207},{"lambda":990.651,"flux":0.7237},{"lambda":990.680,"flux":0.7281},{"lambda":990.728,"flux":0.7501},{"lambda":990.766,"flux":0.7678},{"lambda":990.805,"flux":0.8383},{"lambda":990.833,"flux":0.9089},{"lambda":990.872,"flux":0.9353},{"lambda":990.910,"flux":0.9265},{"lambda":990.948,"flux":0.8736},{"lambda":990.987,"flux":0.8031},{"lambda":991.025,"flux":0.7987},{"lambda":991.064,"flux":0.8207},{"lambda":991.102,"flux":0.8824},{"lambda":991.140,"flux":0.9309},{"lambda":991.179,"flux":0.9265},{"lambda":991.217,"flux":0.8736},{"lambda":991.246,"flux":0.8163},{"lambda":991.284,"flux":0.8119},{"lambda":991.323,"flux":0.8031},{"lambda":991.361,"flux":0.8251},{"lambda":991.390,"flux":0.8207},{"lambda":991.428,"flux":0.781},{"lambda":991.467,"flux":0.759},{"lambda":991.505,"flux":0.7678},{"lambda":991.543,"flux":0.8031},{"lambda":991.572,"flux":0.8868},{"lambda":991.610,"flux":0.8824},{"lambda":991.639,"flux":0.8383},{"lambda":991.678,"flux":0.7854},{"lambda":991.716,"flux":0.7501},{"lambda":991.754,"flux":0.7678},{"lambda":991.793,"flux":0.7678},{"lambda":991.822,"flux":0.7898},{"lambda":991.860,"flux":0.8383},{"lambda":991.898,"flux":0.9265},{"lambda":991.937,"flux":0.9706},{"lambda":991.975,"flux":0.9486},{"lambda":992.004,"flux":0.9089},{"lambda":992.042,"flux":0.8956},{"lambda":992.081,"flux":0.8383},{"lambda":992.119,"flux":0.8383},{"lambda":992.157,"flux":0.8383},{"lambda":992.196,"flux":0.8339},
{"lambda":992.225,"flux":0.8471},{"lambda":992.253,"flux":0.8207},{"lambda":992.282,"flux":0.7678},{"lambda":992.320,"flux":0.7325},{"lambda":992.368,"flux":0.7501},{"lambda":992.416,"flux":0.8031},{"lambda":992.455,"flux":0.8824},{"lambda":992.493,"flux":0.8604},{"lambda":992.551,"flux":0.8604},{"lambda":992.599,"flux":0.8295},{"lambda":992.637,"flux":0.8515},{"lambda":992.676,"flux":0.8383},{"lambda":992.714,"flux":0.8383},{"lambda":992.752,"flux":0.8736},{"lambda":992.800,"flux":0.8912},{"lambda":992.848,"flux":0.8868},{"lambda":992.887,"flux":0.8648},{"lambda":992.915,"flux":0.8471},{"lambda":992.944,"flux":0.8736},{"lambda":992.983,"flux":0.8868},{"lambda":993.021,"flux":0.878},{"lambda":993.059,"flux":0.8912},{"lambda":993.107,"flux":0.9309},{"lambda":993.155,"flux":0.9441},{"lambda":993.194,"flux":0.9265},{"lambda":993.232,"flux":0.8648},{"lambda":993.270,"flux":0.8031},{"lambda":993.318,"flux":0.7854},{"lambda":993.366,"flux":0.7854},{"lambda":993.405,"flux":0.7766},{"lambda":993.434,"flux":0.7898},{"lambda":993.462,"flux":0.8207},{"lambda":993.501,"flux":0.8736},{"lambda":993.539,"flux":0.9089},{"lambda":993.577,"flux":0.9133},{"lambda":993.616,"flux":0.9133},{"lambda":993.654,"flux":0.9353},{"lambda":993.693,"flux":0.9618},{"lambda":993.731,"flux":0.9706},{"lambda":993.769,"flux":0.9662},{"lambda":993.808,"flux":0.9353},{"lambda":993.846,"flux":0.9089},{"lambda":993.894,"flux":0.8868},{"lambda":993.923,"flux":0.878},{"lambda":993.961,"flux":0.9},{"lambda":994.000,"flux":0.9177},{"lambda":994.038,"flux":0.9441},{"lambda":994.067,"flux":0.9618},{"lambda":994.096,"flux":0.953},{"lambda":994.115,"flux":0.9265},{"lambda":994.153,"flux":0.9265},{"lambda":994.191,"flux":0.9221},{"lambda":994.239,"flux":0.9265},
{"lambda":994.307,"flux":0.9177},{"lambda":994.345,"flux":0.9089},{"lambda":994.374,"flux":0.8912},{"lambda":994.412,"flux":0.8648},{"lambda":994.451,"flux":0.8251},{"lambda":994.489,"flux":0.8119},{"lambda":994.518,"flux":0.8471},{"lambda":994.556,"flux":0.9089},{"lambda":994.604,"flux":0.953},{"lambda":994.652,"flux":0.9662},{"lambda":994.690,"flux":0.9706},{"lambda":994.729,"flux":0.9706},{"lambda":994.767,"flux":0.953},{"lambda":994.806,"flux":0.9397},{"lambda":994.844,"flux":0.9177},{"lambda":994.873,"flux":0.9},{"lambda":994.921,"flux":0.9089},{"lambda":994.959,"flux":0.9045},{"lambda":994.988,"flux":0.8912},{"lambda":995.017,"flux":0.9},{"lambda":995.055,"flux":0.9},{"lambda":995.093,"flux":0.9353},{"lambda":995.142,"flux":0.96},{"lambda":995.189,"flux":0.9706},{"lambda":995.237,"flux":0.9838},{"lambda":995.285,"flux":0.9882},{"lambda":995.314,"flux":0.9706},{"lambda":995.343,"flux":0.9265},{"lambda":995.381,"flux":0.878},{"lambda":995.420,"flux":0.8515},{"lambda":995.458,"flux":0.8824},{"lambda":995.497,"flux":0.9353},{"lambda":995.554,"flux":0.9838},{"lambda":995.592,"flux":0.9265},{"lambda":995.631,"flux":0.8648},{"lambda":995.669,"flux":0.856},{"lambda":995.727,"flux":0.9},{"lambda":995.784,"flux":0.9045},{"lambda":995.842,"flux":0.9},{"lambda":995.880,"flux":0.9265},{"lambda":995.909,"flux":0.9706},{"lambda":995.938,"flux":0.9441},{"lambda":995.976,"flux":0.9089},{"lambda":996.024,"flux":0.8736},{"lambda":996.072,"flux":0.8207},{"lambda":996.120,"flux":0.8031},{"lambda":996.158,"flux":0.7942},{"lambda":996.187,"flux":0.8295},{"lambda":996.226,"flux":0.8912},{"lambda":996.264,"flux":0.9353},{"lambda":996.302,"flux":0.9838},{"lambda":996.341,"flux":0.9927},{"lambda":996.379,"flux":0.9882},{"lambda":996.418,"flux":0.975},{"lambda":996.473,"flux":0.9662}
],
"bottom_mag":[
{"lambda":989.962,"flux":0.9927},{"lambda":990.008,"flux":0.9618},{"lambda":990.047,"flux":0.9265},{"lambda":990.085,"flux":0.8736},{"lambda":990.123,"flux":0.8295},{"lambda":990.171,"flux":0.7766},{"lambda":990.219,"flux":0.7678},{"lambda":990.258,"flux":0.7457},{"lambda":990.296,"flux":0.7193},{"lambda":990.334,"flux":0.7325},{"lambda":990.382,"flux":0.7766},{"lambda":990.430,"flux":0.8207},{"lambda":990.469,"flux":0.8383},{"lambda":990.497,"flux":0.8427},{"lambda":990.526,"flux":0.8295},{"lambda":990.565,"flux":0.7678},{"lambda":990.603,"flux":0.7149},{"lambda":990.632,"flux":0.6796},{"lambda":990.661,"flux":0.6355},{"lambda":990.689,"flux":0.6399},{"lambda":990.728,"flux":0.6531},{"lambda":990.766,"flux":0.6796},{"lambda":990.795,"flux":0.7325},{"lambda":990.814,"flux":0.7854},{"lambda":990.843,"flux":0.8207},{"lambda":990.881,"flux":0.8471},{"lambda":990.920,"flux":0.8207},{"lambda":990.958,"flux":0.7678},{"lambda":990.996,"flux":0.7281},{"lambda":991.035,"flux":0.7369},{"lambda":991.073,"flux":0.7854},{"lambda":991.112,"flux":0.8427},{"lambda":991.150,"flux":0.8604},{"lambda":991.179,"flux":0.8427},{"lambda":991.217,"flux":0.7766},{"lambda":991.246,"flux":0.7325},{"lambda":991.284,"flux":0.7237},{"lambda":991.323,"flux":0.7149},{"lambda":991.361,"flux":0.7369},{"lambda":991.390,"flux":0.7413},{"lambda":991.428,"flux":0.7105},{"lambda":991.476,"flux":0.6884},{"lambda":991.515,"flux":0.7413},{"lambda":991.553,"flux":0.7942},{"lambda":991.591,"flux":0.8251},{"lambda":991.620,"flux":0.8251},{"lambda":991.649,"flux":0.7942},{"lambda":991.687,"flux":0.7413},{"lambda":991.726,"flux":0.6884},{"lambda":991.764,"flux":0.6884},{"lambda":991.812,"flux":0.7016},{"lambda":991.851,"flux":0.7325},{"lambda":991.889,"flux":0.8207},{"lambda":991.927,"flux":0.9089},{"lambda":991.956,"flux":0.9574},{"lambda":991.994,"flux":0.9265},{"lambda":992.033,"flux":0.8824},{"lambda":992.071,"flux":0.8383},{"lambda":992.100,"flux":0.7942},{"lambda":992.138,"flux":0.8031},{"lambda":992.167,"flux":0.8119},{"lambda":992.196,"flux":0.8031},
{"lambda":992.225,"flux":0.7854},{"lambda":992.263,"flux":0.7325},{"lambda":992.301,"flux":0.6796},{"lambda":992.330,"flux":0.6487},{"lambda":992.359,"flux":0.6619},{"lambda":992.388,"flux":0.6972},{"lambda":992.426,"flux":0.759},{"lambda":992.464,"flux":0.7766},{"lambda":992.503,"flux":0.7678},{"lambda":992.541,"flux":0.7695},{"lambda":992.580,"flux":0.7678},{"lambda":992.608,"flux":0.7545},{"lambda":992.637,"flux":0.7722},{"lambda":992.676,"flux":0.7854},{"lambda":992.724,"flux":0.8207},{"lambda":992.752,"flux":0.8383},{"lambda":992.791,"flux":0.8515},{"lambda":992.829,"flux":0.8427},{"lambda":992.867,"flux":0.8251},{"lambda":992.906,"flux":0.8075},{"lambda":992.944,"flux":0.8119},{"lambda":992.983,"flux":0.8295},{"lambda":993.021,"flux":0.8224},{"lambda":993.059,"flux":0.8383},{"lambda":993.098,"flux":0.8824},{"lambda":993.136,"flux":0.9177},{"lambda":993.165,"flux":0.9265},{"lambda":993.194,"flux":0.9},{"lambda":993.232,"flux":0.8295},{"lambda":993.270,"flux":0.7678},{"lambda":993.309,"flux":0.7193},{"lambda":993.347,"flux":0.7105},{"lambda":993.386,"flux":0.7016},{"lambda":993.414,"flux":0.7105},{"lambda":993.443,"flux":0.7501},{"lambda":993.481,"flux":0.8031},{"lambda":993.520,"flux":0.8471},{"lambda":993.558,"flux":0.8648},{"lambda":993.597,"flux":0.8824},{"lambda":993.635,"flux":0.9089},{"lambda":993.673,"flux":0.9353},{"lambda":993.712,"flux":0.9574},{"lambda":993.750,"flux":0.9662},{"lambda":993.788,"flux":0.9441},{"lambda":993.827,"flux":0.9},{"lambda":993.865,"flux":0.856},{"lambda":993.904,"flux":0.8207},{"lambda":993.923,"flux":0.8163},{"lambda":993.952,"flux":0.8383},{"lambda":993.980,"flux":0.8824},{"lambda":994.019,"flux":0.9089},{"lambda":994.057,"flux":0.9265},{"lambda":994.096,"flux":0.9089},{"lambda":994.134,"flux":0.9045},{"lambda":994.191,"flux":0.9045},{"lambda":994.230,"flux":0.8912},{"lambda":994.259,"flux":0.9089},
{"lambda":994.297,"flux":0.8956},{"lambda":994.326,"flux":0.8648},{"lambda":994.364,"flux":0.8383},{"lambda":994.403,"flux":0.8295},{"lambda":994.441,"flux":0.7678},{"lambda":994.479,"flux":0.7413},{"lambda":994.508,"flux":0.759},{"lambda":994.537,"flux":0.8207},{"lambda":994.575,"flux":0.8912},{"lambda":994.614,"flux":0.9265},{"lambda":994.652,"flux":0.9486},{"lambda":994.690,"flux":0.953},{"lambda":994.729,"flux":0.9353},{"lambda":994.767,"flux":0.9177},{"lambda":994.806,"flux":0.8912},{"lambda":994.844,"flux":0.856},{"lambda":994.873,"flux":0.8427},{"lambda":994.911,"flux":0.856},{"lambda":994.940,"flux":0.8604},{"lambda":994.969,"flux":0.8427},{"lambda":994.998,"flux":0.8648},{"lambda":995.036,"flux":0.8824},{"lambda":995.074,"flux":0.9},{"lambda":995.113,"flux":0.9353},{"lambda":995.161,"flux":0.9662},{"lambda":995.218,"flux":0.975},{"lambda":995.266,"flux":0.9618},{"lambda":995.305,"flux":0.9353},{"lambda":995.343,"flux":0.8912},{"lambda":995.381,"flux":0.8471},{"lambda":995.420,"flux":0.8163},{"lambda":995.458,"flux":0.856},{"lambda":995.516,"flux":0.9265},{"lambda":995.554,"flux":0.953},{"lambda":995.592,"flux":0.9089},{"lambda":995.631,"flux":0.8383},{"lambda":995.669,"flux":0.7766},{"lambda":995.708,"flux":0.7987},{"lambda":995.746,"flux":0.8295},{"lambda":995.784,"flux":0.8471},{"lambda":995.823,"flux":0.8648},{"lambda":995.861,"flux":0.8868},{"lambda":995.899,"flux":0.9353},{"lambda":995.919,"flux":0.9486},{"lambda":995.957,"flux":0.9177},{"lambda":995.995,"flux":0.8824},{"lambda":996.034,"flux":0.8383},{"lambda":996.063,"flux":0.7898},{"lambda":996.091,"flux":0.7854},{"lambda":996.130,"flux":0.7678},{"lambda":996.158,"flux":0.7854},{"lambda":996.187,"flux":0.8383},{"lambda":996.226,"flux":0.8912},{"lambda":996.264,"flux":0.9353},{"lambda":996.302,"flux":0.9706},{"lambda":996.341,"flux":0.9794},{"lambda":996.379,"flux":0.975},{"lambda":996.418,"flux":0.9706},{"lambda":996.473,"flux":0.9574}
]
},
"vconcat":[
{
 "width":1131,"height":284,
 "encoding":{
  "x":{"field":"x","type":"quantitative","scale":{"domain":[0,1.1124],"nice":false,"zero":false},"axis":{"title":"𝜆 (nm)","labels":false,"ticks":false,"titlePadding":8}},
  "y":{"field":"flux","type":"quantitative","scale":{"domain":[0.517,1.181],"nice":false,"zero":false},"axis":{"title":"Normalized flux","values":[0.6,0.75,0.9,1.05],"format":".2f","tickSize":5,"labelPadding":10,"titlePadding":10}}
 },
 "layer":[
  {"data":{"name":"top_obs"},"mark":{"type":"point","filled":true,"size":48,"opacity":1},
   "encoding":{"color":{"datum":"observations","type":"nominal","scale":{"domain":["observations","non-magnetic model","magnetic model"],"range":["black","blue","red"]}}}},
  {"data":{"name":"top_obs"},"mark":{"type":"point","filled":true,"size":48,"opacity":0},
   "encoding":{"shape":{"datum":"observations","type":"nominal","scale":{"domain":["observations","non-magnetic model","magnetic model"],"range":["M-1.37,0A0.2,0.2,0,1,0,-0.97,0A0.2,0.2,0,1,0,-1.37,0ZM-0.59,0A0.2,0.2,0,1,0,-0.19,0A0.2,0.2,0,1,0,-0.59,0ZM0.19,0A0.2,0.2,0,1,0,0.59,0A0.2,0.2,0,1,0,0.19,0ZM0.97,0A0.2,0.2,0,1,0,1.37,0A0.2,0.2,0,1,0,0.97,0Z","M-1.3,0L1.3,0","M-1.3,0L1.3,0"]}}}},
  {"data":{"name":"top_nonmag"},"mark":{"type":"line","strokeWidth":2,"interpolate":"monotone"},
   "encoding":{"color":{"datum":"non-magnetic model","type":"nominal"},"detail":{"field":"seg","type":"nominal"},
    "strokeDash":{"datum":"non-magnetic model","type":"nominal","scale":{"domain":["observations","non-magnetic model","magnetic model"],"range":[[1,0],[6,3.5],[1,0]]}}}},
  {"data":{"name":"top_mag"},"mark":{"type":"line","strokeWidth":2,"interpolate":"monotone"},
   "encoding":{"color":{"datum":"magnetic model","type":"nominal"},"detail":{"field":"seg","type":"nominal"},"strokeDash":{"datum":"magnetic model","type":"nominal"}}},
  {"data":{"name":"scalebar"},"mark":{"type":"rule","color":"#4a86bf","strokeWidth":1.3},"encoding":{"x2":{"field":"x2"}}},
  {"data":{"name":"scalecaps"},"mark":{"type":"rule","color":"#4a86bf","strokeWidth":1.3},"encoding":{"y2":{"field":"flux2"}}},
  {"data":{"name":"scaletext"},"mark":{"type":"text","font":"DejaVu Serif","fontSize":22,"baseline":"alphabetic","align":"center","color":"black"},"encoding":{"text":{"field":"text"}}},
  {"data":{"name":"labels"},"transform":[{"filter":"datum.style === 'italic'"}],"mark":{"type":"text","font":"DejaVu Sans","fontSize":17,"fontStyle":"italic","baseline":"alphabetic","align":"left","color":"black"},"encoding":{"text":{"field":"text"}}},
  {"data":{"name":"labels"},"transform":[{"filter":"datum.style === 'upright'"}],"mark":{"type":"text","font":"DejaVu Sans","fontSize":17,"baseline":"alphabetic","align":"left","color":"black"},"encoding":{"text":{"field":"text"}}},
  {"data":{"name":"labels"},"transform":[{"filter":"datum.style === 'sub'"}],"mark":{"type":"text","font":"DejaVu Sans","fontSize":12,"baseline":"alphabetic","align":"left","color":"black"},"encoding":{"text":{"field":"text"}}}
 ]
},
{
 "width":1131,"height":248,
 "encoding":{
  "x":{"field":"lambda","type":"quantitative","scale":{"domain":[989.962,996.473],"nice":false,"zero":false},"axis":{"title":"𝜆 (nm)","values":[991,992.5,994,995.5],"format":".1f","tickSize":4,"labelPadding":8,"titlePadding":9}},
  "y":{"field":"flux","type":"quantitative","scale":{"domain":[0.525,1.18],"nice":false,"zero":false},"axis":{"title":"Normalized flux","values":[0.6,0.75,0.9,1.05],"format":".2f","tickSize":5,"labelPadding":10,"titlePadding":10}}
 },
 "layer":[
  {"data":{"name":"bottom_obs"},"mark":{"type":"point","filled":true,"size":50,"opacity":1,"color":"black"}},
  {"data":{"name":"bottom_nonmag"},"mark":{"type":"line","strokeWidth":2,"strokeDash":[6,3.5],"color":"blue","interpolate":"monotone"}},
  {"data":{"name":"bottom_mag"},"mark":{"type":"line","strokeWidth":2,"color":"red","interpolate":"monotone"}}
 ]
}
]
}
